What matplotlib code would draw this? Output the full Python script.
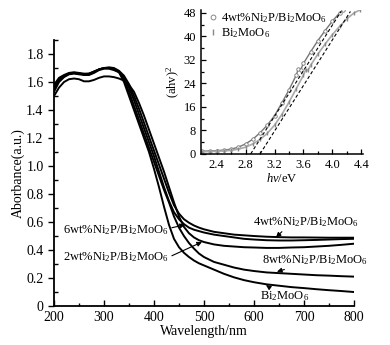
import matplotlib
matplotlib.use("Agg")
import matplotlib.pyplot as plt
from matplotlib.ticker import MultipleLocator

plt.rcParams["font.family"] = ["Liberation Serif", "DejaVu Serif"]
plt.rcParams["mathtext.fontset"] = "custom"
plt.rcParams["mathtext.rm"] = "Liberation Serif"
plt.rcParams["mathtext.it"] = "Liberation Serif:italic"

# ---- main panel data: absorbance vs wavelength ----
wl = [200, 210, 220, 230, 240, 250, 260, 270, 280, 290, 300, 310, 320, 330, 340,
      350, 360, 370, 380, 390, 400, 410, 420, 430, 440, 450, 460, 470, 480, 490,
      500, 520, 540, 560, 580, 600, 625, 650, 675, 700, 725, 750, 775, 800]

abs_bi = [1.56, 1.62, 1.645, 1.66, 1.665, 1.66, 1.655, 1.655, 1.67, 1.69, 1.70, 1.70, 1.69, 1.67, 1.60,
          1.50, 1.40, 1.30, 1.20, 1.10, 0.98, 0.85, 0.71, 0.58, 0.48, 0.42, 0.38, 0.35, 0.325, 0.305,
          0.29, 0.26, 0.23, 0.205, 0.185, 0.17, 0.155, 0.145, 0.135, 0.128, 0.12, 0.113, 0.107, 0.10]

abs_8wt = [1.53, 1.60, 1.635, 1.655, 1.66, 1.655, 1.65, 1.65, 1.665, 1.685, 1.695, 1.695, 1.685, 1.67, 1.62,
           1.53, 1.43, 1.33, 1.23, 1.13, 1.03, 0.93, 0.83, 0.74, 0.64, 0.56, 0.50, 0.45, 0.41, 0.375,
           0.35, 0.315, 0.295, 0.275, 0.26, 0.25, 0.24, 0.235, 0.23, 0.225, 0.22, 0.217, 0.213, 0.21]

abs_6wt = [1.58, 1.63, 1.65, 1.665, 1.67, 1.665, 1.66, 1.66, 1.675, 1.69, 1.70, 1.70, 1.695, 1.675, 1.63,
           1.56, 1.47, 1.37, 1.27, 1.17, 1.07, 0.96, 0.85, 0.75, 0.67, 0.62, 0.585, 0.56, 0.545, 0.535,
           0.525, 0.51, 0.50, 0.49, 0.48, 0.475, 0.47, 0.468, 0.468, 0.47, 0.472, 0.475, 0.478, 0.48]

abs_4wt = [1.55, 1.61, 1.64, 1.66, 1.665, 1.66, 1.655, 1.66, 1.675, 1.69, 1.70, 1.705, 1.70, 1.68, 1.645,
           1.585, 1.50, 1.41, 1.31, 1.21, 1.11, 1.01, 0.91, 0.81, 0.72, 0.66, 0.62, 0.595, 0.575, 0.56,
           0.548, 0.53, 0.52, 0.51, 0.505, 0.50, 0.495, 0.492, 0.49, 0.49, 0.489, 0.488, 0.488, 0.488]

abs_2wt = [1.50, 1.56, 1.60, 1.62, 1.625, 1.62, 1.605, 1.605, 1.615, 1.63, 1.64, 1.64, 1.635, 1.625, 1.61,
           1.58, 1.53, 1.45, 1.36, 1.26, 1.16, 1.06, 0.96, 0.85, 0.74, 0.64, 0.565, 0.52, 0.49, 0.47,
           0.457, 0.44, 0.43, 0.425, 0.42, 0.418, 0.415, 0.415, 0.418, 0.42, 0.425, 0.43, 0.437, 0.445]

# ---- inset data: Tauc plot ----
e_4wt = [2.2, 2.3, 2.4, 2.5, 2.6, 2.7, 2.8, 2.9, 3.0, 3.1, 3.2, 3.3, 3.4, 3.5, 3.53,
         3.56, 3.6, 3.7, 3.8, 3.9, 4.0, 4.1, 4.15]
t_4wt = [0.9, 1.0, 1.1, 1.3, 1.6, 2.3, 3.4, 5.0, 7.2, 9.8, 13.0, 17.3, 21.8, 26.8, 29.0,
         28.6, 30.8, 34.8, 38.6, 42.0, 45.2, 48.0, 49.0]

e_bi = [2.2, 2.3, 2.4, 2.5, 2.6, 2.7, 2.8, 2.9, 3.0, 3.1, 3.2, 3.3, 3.4, 3.5, 3.6,
        3.63, 3.66, 3.7, 3.8, 3.9, 4.0, 4.1, 4.2, 4.3, 4.38]
t_bi = [0.7, 0.8, 0.9, 1.0, 1.2, 1.6, 2.3, 3.4, 4.9, 7.0, 9.8, 13.4, 17.6, 22.2, 26.8,
        28.6, 28.4, 30.2, 34.0, 37.4, 40.6, 43.4, 46.0, 48.0, 49.0]

tan1_e = [2.87, 4.12]
tan1_t = [0.0, 48.5]
tan2_e = [3.0, 4.25]
tan2_t = [0.0, 48.5]

fig = plt.figure(figsize=(3.9, 3.45), dpi=100)
ax = fig.add_axes([0.1385, 0.113, 0.769, 0.771])

for y in (abs_bi, abs_8wt, abs_6wt, abs_4wt, abs_2wt):
    ax.plot(wl, y, color="black", lw=1.4)

ax.set_xlim(200, 800)
ax.set_ylim(0, 1.9)
ax.xaxis.set_major_locator(MultipleLocator(100))
ax.xaxis.set_minor_locator(MultipleLocator(50))
ax.yaxis.set_major_locator(MultipleLocator(0.2))
ax.yaxis.set_minor_locator(MultipleLocator(0.1))
ax.set_yticks(ax.get_yticks())
ax.set_yticklabels([("0" if v == 0 else f"{v:.1f}") for v in ax.get_yticks()])
ax.set_ylim(0, 1.9)
for s in ("top", "right"):
    ax.spines[s].set_visible(False)
for s in ("left", "bottom"):
    ax.spines[s].set_linewidth(1.3)
ax.tick_params(axis="x", which="both", direction="in", labelsize=10, width=1.0)
ax.tick_params(axis="y", which="major", direction="out", labelsize=10, width=1.0, length=4)
ax.tick_params(axis="y", which="minor", direction="in", width=1.0, length=3)
ax.tick_params(axis="x", which="major", length=4)
ax.set_xlabel("Wavelength/nm", fontsize=10, labelpad=1)
ax.set_ylabel("Aborbance(a.u.)", fontsize=10, labelpad=1)

fs_lab = 9
ax.annotate("6wt%Ni$_2$P/Bi$_2$MoO$_6$", xy=(462, 0.58), xytext=(218, 0.545),
            fontsize=fs_lab, va="center",
            arrowprops=dict(arrowstyle="-|>", color="black", lw=0.8, mutation_scale=7,
                            relpos=(1.0, 0.6), shrinkA=0, shrinkB=0))
ax.annotate("2wt%Ni$_2$P/Bi$_2$MoO$_6$", xy=(496, 0.457), xytext=(218, 0.35),
            fontsize=fs_lab, va="center",
            arrowprops=dict(arrowstyle="-|>", color="black", lw=0.8, mutation_scale=7,
                            relpos=(1.0, 0.5), shrinkA=0, shrinkB=0))
ax.annotate("4wt%Ni$_2$P/Bi$_2$MoO$_6$", xy=(644, 0.49), xytext=(598, 0.60),
            fontsize=fs_lab, va="center",
            arrowprops=dict(arrowstyle="-|>", color="black", lw=0.8, mutation_scale=7,
                            relpos=(0.3, 0.0), shrinkA=0, shrinkB=0))
ax.annotate("8wt%Ni$_2$P/Bi$_2$MoO$_6$", xy=(646, 0.245), xytext=(616, 0.33),
            fontsize=fs_lab, va="center",
            arrowprops=dict(arrowstyle="-|>", color="black", lw=0.8, mutation_scale=7,
                            relpos=(0.3, 0.0), shrinkA=0, shrinkB=0))
ax.annotate("Bi$_2$MoO$_6$", xy=(624, 0.15), xytext=(612, 0.07),
            fontsize=fs_lab, va="center",
            arrowprops=dict(arrowstyle="-|>", color="black", lw=0.8, mutation_scale=7,
                            relpos=(0.25, 1.0), shrinkA=0, shrinkB=0))

# ---- inset ----
ins = fig.add_axes([0.515, 0.554, 0.415, 0.417])
ins.plot(e_4wt, t_4wt, color="#777777", lw=1.0)
ins.plot(e_4wt, t_4wt, ls="none", marker="o", ms=2.5, mfc="white", mec="#777777",
         mew=0.6, label="4wt%Ni$_2$P/Bi$_2$MoO$_6$")
ins.plot(e_bi, t_bi, color="#aaaaaa", lw=1.2)
ins.plot(e_bi, t_bi, ls="none", marker="|", ms=3, mec="#888888",
         label="Bi$_2$MoO$_6$")
ins.plot(tan1_e, tan1_t, color="black", lw=0.8, ls=(0, (3, 2)))
ins.plot(tan2_e, tan2_t, color="black", lw=0.8, ls=(0, (3, 2)))

ins.set_xlim(2.18, 4.42)
ins.set_ylim(0, 49)
ins.xaxis.set_major_locator(MultipleLocator(0.4))
ins.xaxis.set_minor_locator(MultipleLocator(0.2))
ins.yaxis.set_major_locator(MultipleLocator(8))
ins.yaxis.set_minor_locator(MultipleLocator(4))
for s in ("top", "right"):
    ins.spines[s].set_visible(False)
for s in ("left", "bottom"):
    ins.spines[s].set_linewidth(1.1)
ins.tick_params(which="both", direction="in", labelsize=9, width=0.9)
ins.tick_params(which="major", length=3.5)
ins.tick_params(which="minor", length=2)
ins.patch.set_alpha(0)
ins.set_xlabel("$hv$/eV", fontsize=9, labelpad=1)
ins.set_ylabel("(ahv)$^2$", fontsize=9, labelpad=1)
ins.legend(loc="upper left", bbox_to_anchor=(0.0, 1.05), frameon=False, fontsize=9,
           handlelength=0.6, handletextpad=0.3, borderpad=0.2, labelspacing=0.05,
           markerscale=1.4)

fig.savefig("out.png", dpi=100, facecolor="white")
